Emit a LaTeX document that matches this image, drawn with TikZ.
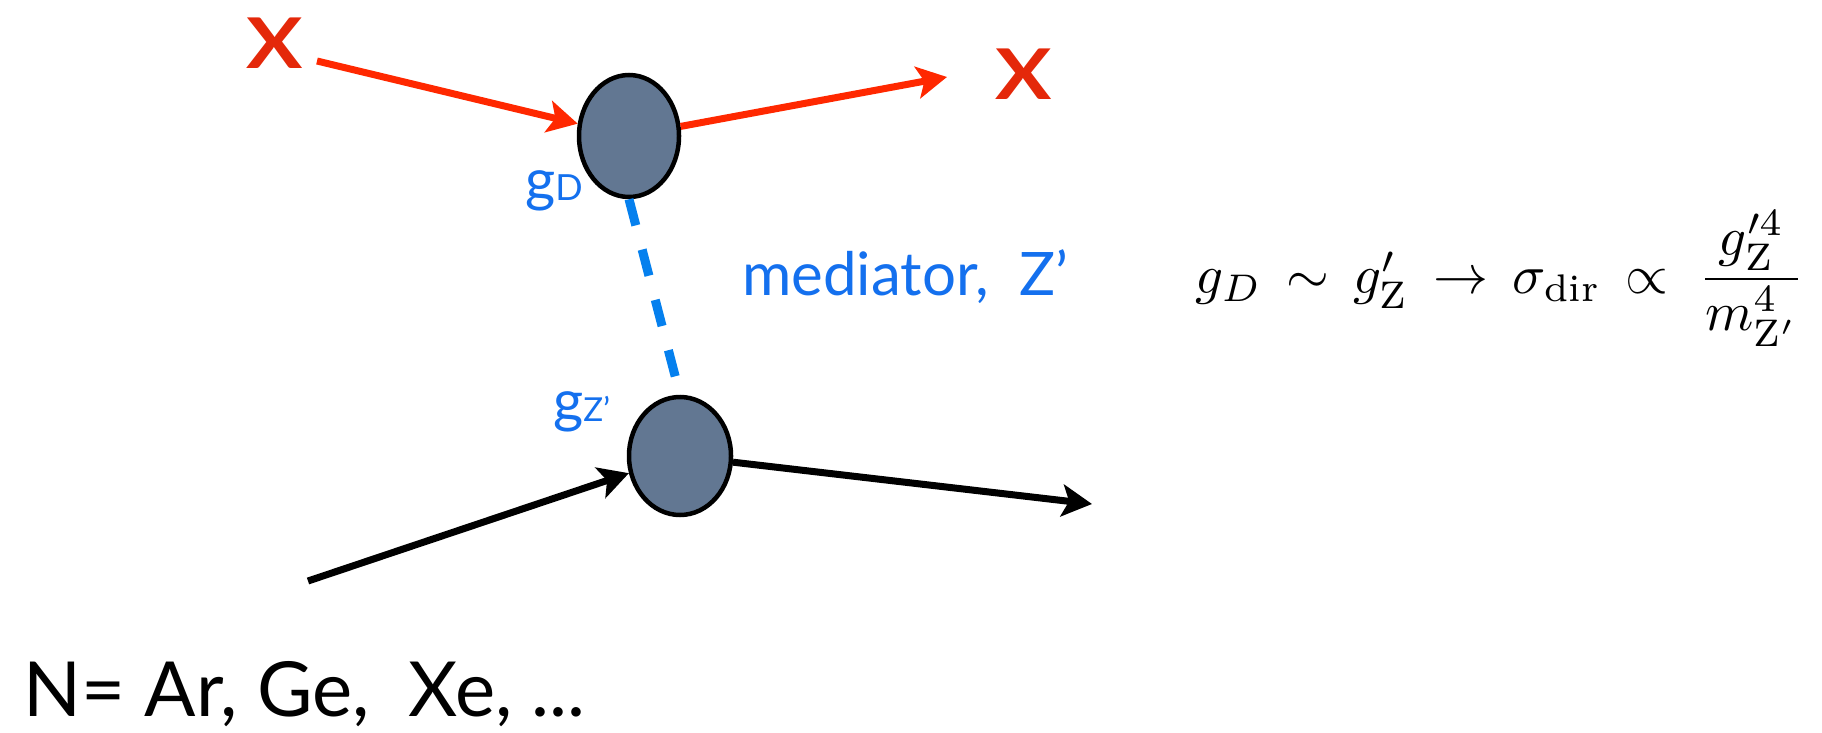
\documentclass[tikz,border=0pt]{standalone}
\usepackage{amsmath,amssymb}
\usepackage{fontspec}
\newfontfamily\labelfont{Lato}
\usetikzlibrary{positioning,shapes.geometric,arrows.meta}

\definecolor{dmred}{RGB}{255,40,0}
\definecolor{xred}{RGB}{228,40,10}
\definecolor{medblue}{RGB}{20,112,238}
\definecolor{dashblue}{RGB}{5,128,238}
\definecolor{blobfill}{RGB}{98,119,146}

\begin{document}
\begin{tikzpicture}[x=1pt,y=-1pt,
    blob/.style={ellipse,draw=black,line width=4.5pt,fill=blobfill,
      minimum width=100pt,minimum height=122pt,inner sep=0pt},
    redline/.style={draw=dmred,line width=7pt,-{Stealth[length=30pt,width=32pt,inset=7pt]}},
    blackline/.style={draw=black,line width=7pt,-{Stealth[length=30pt,width=32pt,inset=7pt]}},
    xlabel/.style={text=xred,inner sep=0pt,font=\labelfont\bfseries\fontsize{70}{70}\selectfont},
    bluetext/.style={text=medblue,inner sep=0pt},
  ]
  \useasboundingbox (0,0) rectangle (1822,733);
  % vertices
  \node[blob] (dmtop) at (629,136) {};
  \node[blob,minimum width=102pt,minimum height=118pt] (nuc) at (680,456) {};
  % dark matter line
  \node[xlabel] (xin) at (275,43) {\scalebox{1.2}[1]{X}};
  \node[xlabel] (xout) at (1024,74) {\scalebox{1.2}[1]{X}};
  \coordinate (xstart) at (317,61);
  \coordinate (xend) at (947,77);
  \draw[redline] (xstart) -- (dmtop);
  \draw[redline] (dmtop) -- (xend);
  % nucleus line
  \coordinate (nstart) at (308,581);
  \coordinate (nend) at (1092,504);
  \draw[blackline] (nstart) -- (nuc);
  \draw[blackline] (nuc) -- (nend);
  % mediator
  \draw[draw=dashblue,line width=9pt,dash pattern=on 27pt off 25pt,shorten >=15pt]
    (dmtop.south) -- (nuc.north);
  \node[bluetext,anchor=base west] (gd) at (525,200)
    {\labelfont\fontsize{58}{58}\selectfont g{\fontsize{36}{36}\selectfont D}};
  \node[bluetext,anchor=base west] (gz) at (553,421)
    {\labelfont\fontsize{58}{58}\selectfont g{\fontsize{33}{33}\selectfont Z’}};
  \node[bluetext,anchor=base west] (med) at (742,295)
    {\labelfont\fontsize{60}{60}\selectfont mediator,\ \ Z’};
  % target and cross section
  \node[inner sep=0pt,anchor=base west] (targ) at (23,716)
    {\labelfont\fontsize{76}{76}\selectfont N= Ar, Ge,\ \ Xe, ...};
  \node[inner sep=0pt] (xsec) at (1500,279)
    {\scalebox{5.5}{$g_D \,\sim\, g'_{\mathrm{Z}} \,\rightarrow\, \sigma_{\mathrm{dir}} \,\propto\; \dfrac{g'^{4}_{\mathrm{Z}}}{m^{4}_{\mathrm{Z}'}}$}};
\end{tikzpicture}
\end{document}
